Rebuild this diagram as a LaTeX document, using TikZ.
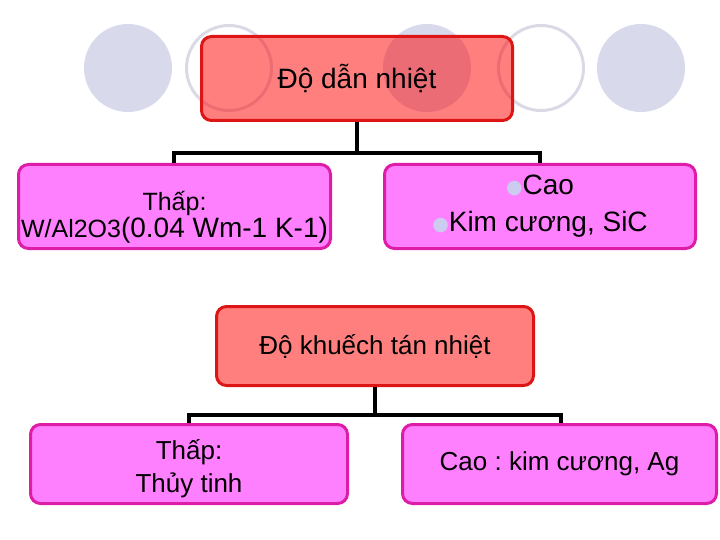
\documentclass[tikz,border=0pt]{standalone}
\usepackage{fontspec}
\setmainfont{Liberation Sans}
\newfontfamily\symfont{DejaVu Sans}
\usetikzlibrary{positioning}
\definecolor{lavender}{HTML}{D9D9EC}
\definecolor{dotBlue}{HTML}{CCCCF0}
\definecolor{ringGray}{HTML}{DADAE6}
\definecolor{edgeRed}{HTML}{DD1515}
\definecolor{boxPink}{HTML}{FF80FF}
\definecolor{edgePink}{HTML}{DD1CA8}
\newcommand{\lavdot}{\raisebox{1.5pt}{\symfont\fontsize{19}{19}\selectfont\textcolor{dotBlue}{●}}}
\newcommand{\fs}[1]{\fontsize{#1}{#1}\selectfont}
\tikzset{
  topic/.style={rectangle, rounded corners=10pt, draw=edgeRed, line width=3pt,
                fill=red, fill opacity=0.5, draw opacity=1, text opacity=1,
                align=center, inner sep=0pt, font=\fontsize{26}{30}\selectfont},
  leaf/.style={rectangle, rounded corners=10pt, draw=edgePink, line width=3pt,
               fill=boxPink, align=center, inner sep=0pt,
               minimum height=84pt, font=\fontsize{26}{30}\selectfont},
  disc/.style={circle, fill=lavender, minimum size=88pt, inner sep=0pt},
  ring/.style={circle, draw=ringGray, line width=3pt, minimum size=85pt, inner sep=0pt},
  tree/.style={line width=3.5pt, draw=black}
}
\frenchspacing
\begin{document}
\begin{tikzpicture}[x=1pt, y=-1pt]
\useasboundingbox (0,0) rectangle (720,540);
\node[disc] (d1) at (128,68) {};
\node[ring] (r1) at (229,68) {};
\node[disc] (d2) at (427,68) {};
\node[ring] (r2) at (541,68) {};
\node[disc] (d3) at (641,68) {};

\node[topic, minimum width=311pt, minimum height=84pt, font=\fs{28}] (dan) at (357,78.5) {Độ dẫn nhiệt};
\node[leaf, minimum width=312pt] (thap1) at (174.5,206.5)
  {\rule{0pt}{40pt}{\fs{25}Thấp:}\\[-3pt]{\fs{25}W/Al2O3}{\fs{28}(0.04 Wm-1 K-1)}};
\node[leaf, minimum width=311pt, font=\fs{28}] (cao1) at (540,206.5)
  {\lavdot Cao\\[9pt]\lavdot Kim cương, SiC};

\node[topic, minimum width=317pt, minimum height=79pt] (tan) at (375,346) {Độ khuếch tán nhiệt};
\node[leaf, minimum width=317pt, minimum height=79pt] (thap2) at (189,464) {\rule{0pt}{30pt}Thấp:\\[3pt]Thủy tinh};
\node[leaf, minimum width=314pt, minimum height=79pt] (cao2) at (559.5,464) {Cao : kim cương, Ag};

\draw[tree] (dan.south) -- ++(0,31) coordinate (j1);
\draw[tree] (thap1.north -| 174,0) |- (j1) -| (cao1.north);
\draw[tree] (tan.south) -- ++(0,28) coordinate (j2);
\draw[tree] (thap2.north) |- (j2) -| (cao2.north -| 561,0);
\end{tikzpicture}
\end{document}
